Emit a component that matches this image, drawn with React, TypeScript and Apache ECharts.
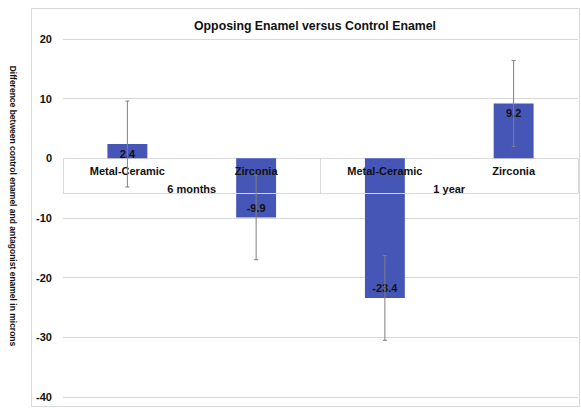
import React, { useEffect, useRef } from "react";
import * as echarts from "echarts";

const categories = ["Metal-Ceramic", "Zirconia", "Metal-Ceramic", "Zirconia"];
const groups = ["6 months", "1 year"];
const values = [2.4, -9.9, -23.4, 9.2];
const errors = [7.2, 7.1, 7.1, 7.2];
const yTicks = { min: -40, max: 20, interval: 10 };
const yAxisTitle = "Difference between control enamel and antagonist enamel in microns";

const FONT = "Liberation Sans, Arial, Helvetica, sans-serif";

const GRID_TOP = 39;
const GRID_BOTTOM = 11;
const CHART_H = 408;

export default function App() {
  const ref = useRef<HTMLDivElement>(null);
  useEffect(() => {
    if (!ref.current) return;
    const chart = echarts.init(ref.current, undefined, { renderer: "svg" });
    const plotH = CHART_H - GRID_TOP - GRID_BOTTOM;
    const zeroY = GRID_TOP + (plotH * (yTicks.max - 0)) / (yTicks.max - yTicks.min);
    const labelStyle = {
      fontSize: 11,
      fontWeight: "bold",
      color: "#111",
      fontFamily: FONT,
    };
    chart.setOption({
      animation: false,
      backgroundColor: "#ffffff",
      textStyle: { fontFamily: FONT },
      title: {
        text: "Opposing Enamel versus Control Enamel",
        left: 310,
        textAlign: "center",
        top: 15,
        textStyle: { fontSize: 12.3, fontWeight: "bold", color: "#111", fontFamily: FONT },
      },
      graphic: [
        {
          type: "rect",
          shape: { x: 31.5, y: 8.5, width: 548, height: 398 },
          style: { fill: "none", stroke: "#d9d9d9", lineWidth: 1 },
          silent: true,
          z: -1,
        },
        {
          type: "text",
          x: 12.5,
          y: 206,
          rotation: -Math.PI / 2,
          style: {
            text: yAxisTitle,
            fontSize: 8.5,
            fontWeight: "bold",
            fill: "#111",
            fontFamily: FONT,
            align: "center",
            verticalAlign: "middle",
          },
          silent: true,
        },
      ],
      grid: [
        { left: 63, right: 3, top: GRID_TOP, bottom: GRID_BOTTOM, containLabel: false, outerBoundsMode: "none" },
        { left: 63, right: 3, top: zeroY, height: 35, containLabel: false, outerBoundsMode: "none" },
      ],
      xAxis: [
        {
          type: "category",
          gridIndex: 0,
          data: categories,
          show: false,
        },
        {
          type: "category",
          gridIndex: 1,
          data: categories,
          position: "top",
          axisLine: { show: true, lineStyle: { color: "#d9d9d9", width: 1 } },
          axisTick: { show: false },
          axisLabel: { ...labelStyle, inside: true, margin: 7, interval: 0 },
          splitLine: { show: false },
          z: 10,
        },
        {
          type: "category",
          gridIndex: 1,
          data: groups,
          position: "top",
          axisLine: { show: false },
          axisTick: { show: true, inside: true, length: 35, lineStyle: { color: "#d9d9d9" } },
          axisLabel: { ...labelStyle, inside: true, margin: 25, interval: 0 },
          splitLine: { show: false },
          z: 10,
        },
      ],
      yAxis: [
        {
          type: "value",
          gridIndex: 0,
          min: yTicks.min,
          max: yTicks.max,
          interval: yTicks.interval,
          axisLine: { show: false, onZero: false },
          axisTick: { show: false },
          axisLabel: { ...labelStyle, margin: 11 },
          splitLine: { lineStyle: { color: "#d9d9d9", width: 1 } },
        },
        {
          type: "value",
          gridIndex: 1,
          min: 0,
          max: 1,
          show: false,
        },
      ],
      series: [
        {
          type: "bar",
          xAxisIndex: 0,
          yAxisIndex: 0,
          barWidth: "31%",
          itemStyle: { color: "#4656b7" },
          data: values.map((v) => ({
            value: v,
            label: {
              show: true,
              position: v >= 0 ? "insideTop" : "insideBottom",
              distance: 4,
              ...labelStyle,
            },
          })),
          z: 2,
        },
        {
          type: "custom",
          xAxisIndex: 0,
          yAxisIndex: 0,
          data: values.map((v, i) => [i, v - errors[i], v + errors[i]]),
          renderItem: (params: any, api: any) => {
            const x = api.value(0);
            const lo = api.coord([x, api.value(1)]);
            const hi = api.coord([x, api.value(2)]);
            const cap = 2;
            const style = { stroke: "#7f7f7f", lineWidth: 1 };
            return {
              type: "group",
              children: [
                { type: "line", shape: { x1: hi[0], y1: hi[1], x2: lo[0], y2: lo[1] }, style },
                { type: "line", shape: { x1: hi[0] - cap, y1: hi[1], x2: hi[0] + cap, y2: hi[1] }, style },
                { type: "line", shape: { x1: lo[0] - cap, y1: lo[1], x2: lo[0] + cap, y2: lo[1] }, style },
              ],
            };
          },
          z: 20,
        },
      ],
    });
    return () => chart.dispose();
  }, []);
  return <div ref={ref} style={{ width: 581, height: 408, position: "absolute", left: 0, top: 0 }} />;
}
